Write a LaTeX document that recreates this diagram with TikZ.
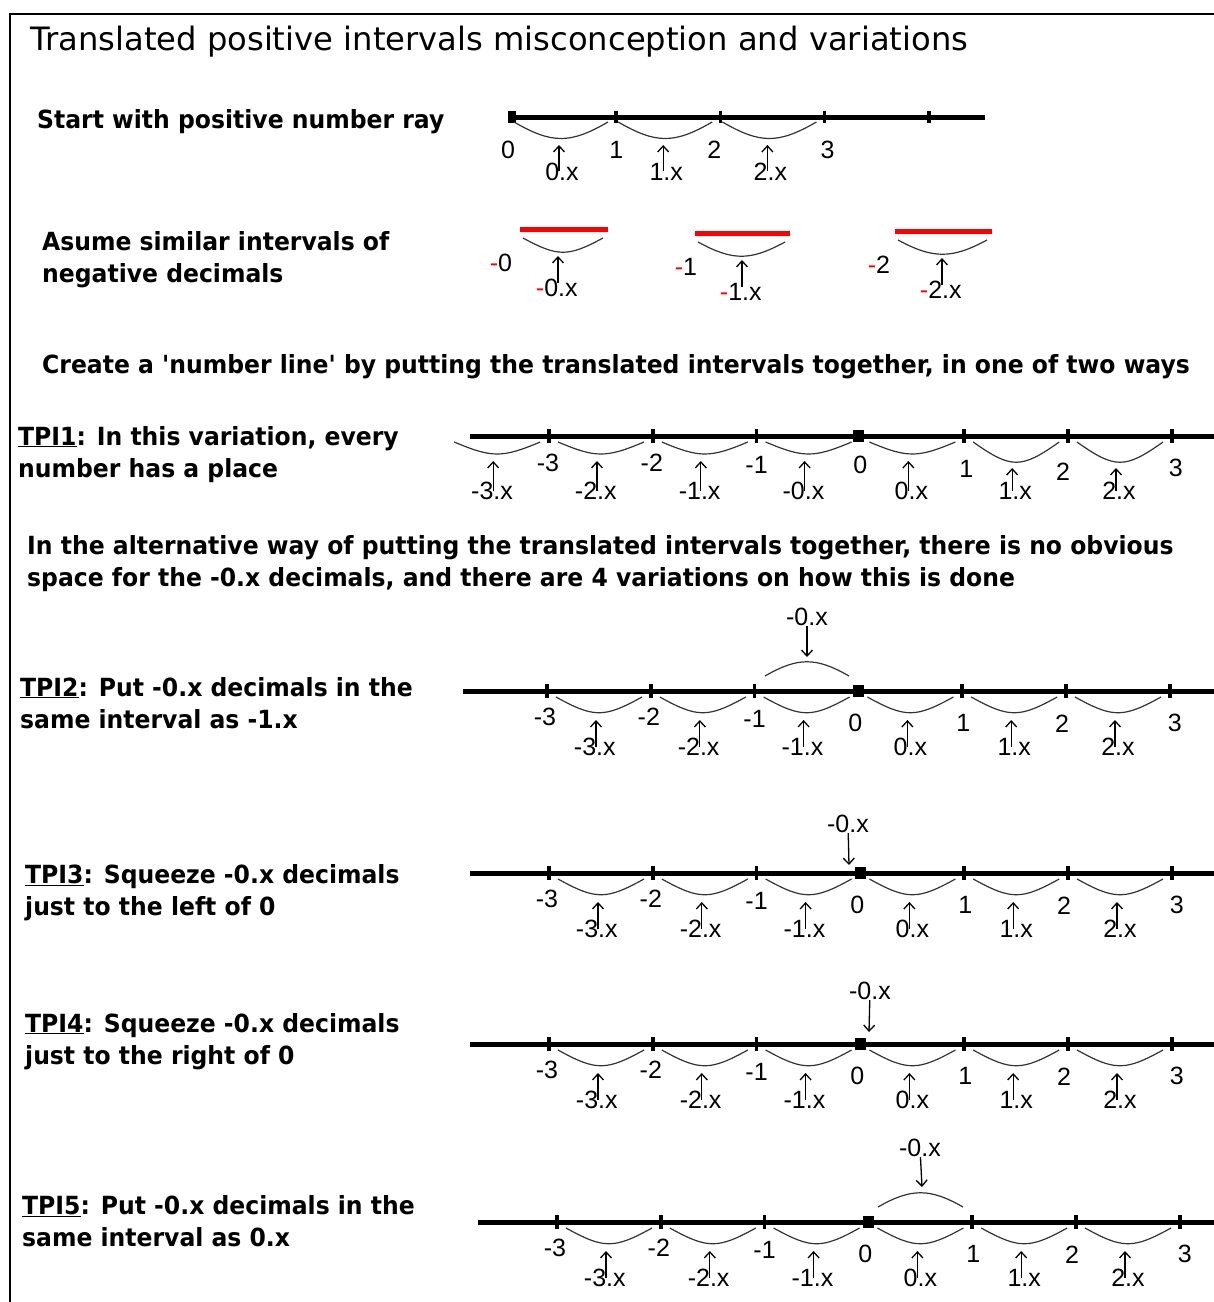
\documentclass[tikz,border=0pt]{standalone}
\usepackage{fontspec}
\setmainfont{DejaVu Sans}
\newfontfamily\txtfont{DejaVu Sans}[FakeStretch=0.94]
\newfontfamily\numfont{Liberation Sans}
\usetikzlibrary{arrows.meta}

\tikzset{
	headline/.style={font=\fontsize{32.2}{36}\selectfont, anchor=base west, inner sep=0pt},
	txt/.style={font=\txtfont\bfseries\fontsize{25}{30}\selectfont, anchor=base west, inner sep=0pt},
	num/.style={font=\numfont\fontsize{25}{25}\selectfont, inner sep=0pt},
	dec/.style={font=\numfont\fontsize{25}{25}\selectfont, anchor=base west, inner sep=0pt},
	numline/.style={line width=5pt},
	tickmark/.style={line width=3.5pt},
	bow/.style={line width=1.2pt, black!80},
	pointer/.style={line width=1.3pt, -{Straight Barb[length=6pt,width=11pt]}},
	redbar/.style={red, line width=5pt}
}

\begin{document}
\begin{tikzpicture}[x=1pt, y=-1pt]
	\useasboundingbox (0,0) rectangle (1214,1302);
	\draw[line width=2pt] (10,1310) -- (10,14) -- (1220,14);
	% texts
	\node[headline] (head) at (30,50) {Translated positive intervals misconception and variations};
	\node[txt] (start) at (37,128) {Start with positive number ray};
	\node[txt] (asume1) at (42,250) {Asume similar intervals of};
	\node[txt] (asume2) at (42,282) {negative decimals};
	\node[txt] (create) at (42,373) {Create a 'number line' by putting the translated intervals together, in one of two ways};
	\node[txt] (tpi1a) at (18,445) {\underline{TPI1}: In this variation, every};
	\node[txt] (tpi1b) at (18,477) {number has a place};
	\node[txt] (alt1) at (27,554) {In the alternative way of putting the translated intervals together, there is no obvious};
	\node[txt] (alt2) at (27,586) {space for the -0.x decimals, and there are 4 variations on how this is done};
	\node[txt] (tpi2a) at (20,696) {\underline{TPI2}: Put -0.x decimals in the};
	\node[txt] (tpi2b) at (20,728) {same interval as -1.x};
	\node[txt] (tpi3a) at (25,883) {\underline{TPI3}: Squeeze -0.x decimals};
	\node[txt] (tpi3b) at (25,915) {just to the left of 0};
	\node[txt] (tpi4a) at (25,1032) {\underline{TPI4}: Squeeze -0.x decimals};
	\node[txt] (tpi4b) at (25,1064) {just to the right of 0};
	\node[txt] (tpi5a) at (22,1214) {\underline{TPI5}: Put -0.x decimals in the};
	\node[txt] (tpi5b) at (22,1246) {same interval as 0.x};

	% positive number ray
	\begin{scope}[shift={(512,117)}]
		\draw[numline] (0,0) -- (473,0);
		\fill (-4,-6) rectangle (4,6);
		\foreach \k in {1,...,4}
			\draw[tickmark] (104.2*\k,-6) -- (104.2*\k,6);
		\foreach \k/\dx in {0/-4,1/0,2/-6,3/3}
			\node[num] (r\k) at (104.2*\k+\dx,33) {\k};
		\foreach \k in {0,1,2} {
			\draw[bow] (104.2*\k+2,5) .. controls +(38,22) and +(-38,22) .. (104.2*\k+96,5);
			\coordinate (rb\k) at (104.2*\k+47,28);
			\coordinate (re\k) at (104.2*\k+47,54);
			\draw[pointer] (re\k) -- (rb\k);
			\node[dec] (rx\k) at (104.2*\k+47,63) {\llap{\k}.x};
		}
	\end{scope}

	% intervals of negative decimals
	\foreach \a/\b/\y/\ax/\v/\vx in {520/608/229/558/0/501, 695/790/233/742/1/686, 895/992/231/942/2/879} {
		\draw[redbar] (\a,\y) -- (\b,\y);
		\draw[bow] (\a+3,\y+9) .. controls +(35,19) and +(-35,19) .. (\b-5,\y+9);
		\coordinate (nb\v) at (\ax,\y+27);
		\coordinate (ne\v) at (\ax,\y+54);
		\draw[pointer] (ne\v) -- (nb\v);
		\node[num] (nv\v) at (\vx,\y+34) {\textcolor{red}{-}\v};
		\node[dec] (nx\v) at (\ax,\y+67) {\llap{\textcolor{red}{-}\v}.x};
	}

	% TPI1
	\begin{scope}[shift={(549,436)}]
		\draw[numline] (-79,0) -- (700,0);
		\foreach \k in {0,1,2,4,5,6}
			\draw[tickmark] (103.8*\k,-7) -- (103.8*\k,7);
		\fill (304,-6) rectangle (315,6);
		\foreach \v/\dx/\dy [count=\k from 0] in {-3/-1/27, -2/-1/27, -1/0/29, 0/0/29, 1/2/33, 2/-5/36, 3/4/32}
			\node[num] (m\k) at (103.8*\k+\dx,\dy) {\v};
		\foreach \v/\c/\h [count=\k from -1] in {-3/16/25, -2/16/25, -1/16/25, -0/16/25, 0/16/25, 1/27/32, 2/27/32} {
			\draw[bow] (103.8*\k+9,6) .. controls +(38,\c) and +(-38,\c) .. (103.8*\k+95,6);
			\coordinate (mb\k) at (103.8*\k+48,\h);
			\coordinate (me\k) at (103.8*\k+48,55);
			\draw[pointer] (me\k) -- (mb\k);
			\node[dec] (mx\k) at (103.8*\k+48,63) {\llap{\v}.x};
		}
	\end{scope}

	% TPI2 to TPI5
	\foreach \x/\y/\s in {547/691/84, 549/873/79, 549/1044/79, 557/1222/79} {
		\begin{scope}[shift={(\x,\y)}]
			\draw[numline] (-\s,0) -- (700,0);
			\foreach \k in {0,1,2,4,5,6}
				\draw[tickmark] (103.8*\k,-7) -- (103.8*\k,7);
			\fill (306,-6) rectangle (317,6);
			\foreach \v/\dx/\dy [count=\k from 0] in {-3/-2/26, -2/-2/26, -1/0/28, 0/-3/32, 1/1/32, 2/-4/33, 3/5/32}
				\node[num] (n\k) at (103.8*\k+\dx,\dy) {\v};
			\foreach \v [count=\k from 0] in {-3,-2,-1,0,1,2} {
				\draw[bow] (103.8*\k+9,6) .. controls +(38,21) and +(-38,21) .. (103.8*\k+95,6);
				\coordinate (b\k) at (103.8*\k+49,29);
				\coordinate (e\k) at (103.8*\k+49,56);
				\draw[pointer] (e\k) -- (b\k);
				\node[dec] (d\k) at (103.8*\k+49,64) {\llap{\v}.x};
			}
		\end{scope}
	}

	% where -0.x goes
	\draw[bow] (765,676) .. controls +(33,-19) and +(-33,-19) .. (849,676);
	\node[num] (z2) at (807,617) {-0.x};
	\coordinate (z2e) at (807,657);
	\draw[pointer] (z2) -- (z2e);
	\node[num] (z3) at (848,824) {-0.x};
	\coordinate (z3e) at (849,865);
	\draw[pointer] (z3) -- (z3e);
	\node[num] (z4) at (870,991) {-0.x};
	\coordinate (z4e) at (869,1032);
	\draw[pointer] (z4) -- (z4e);
	\draw[bow] (878,1207) .. controls +(33,-19) and +(-33,-19) .. (963,1207);
	\node[num] (z5) at (920,1148) {-0.x};
	\coordinate (z5e) at (922,1187);
	\draw[pointer] (z5) -- (z5e);
\end{tikzpicture}
\end{document}
